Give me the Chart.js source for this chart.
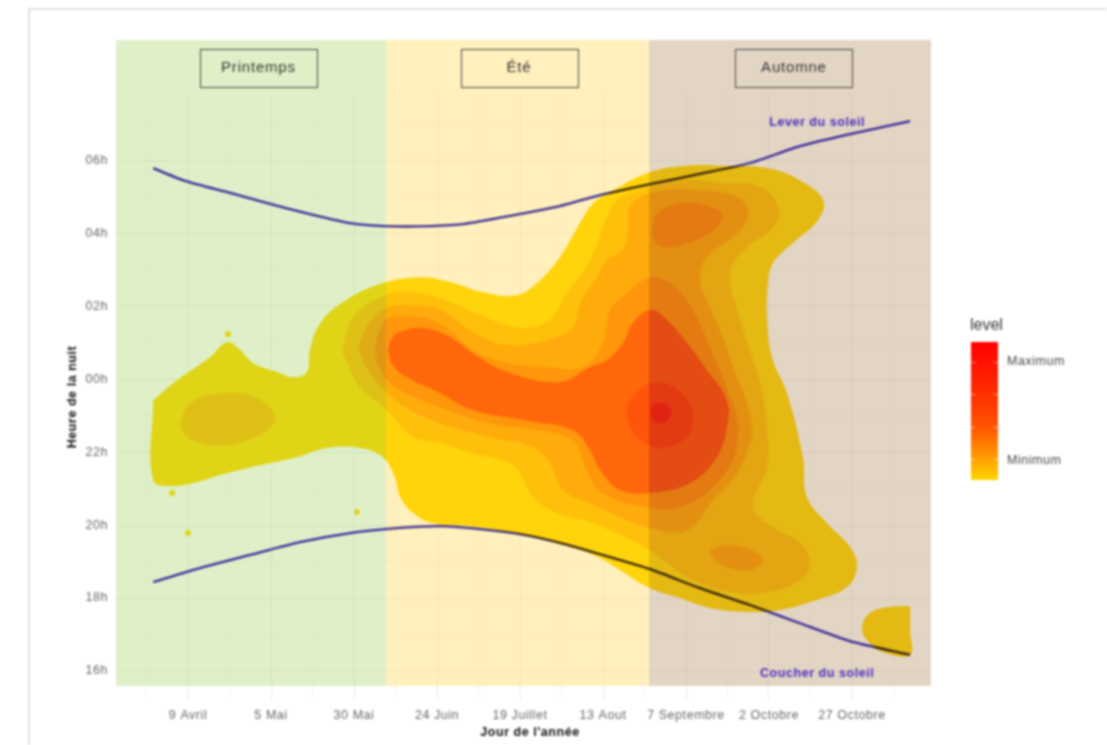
<!DOCTYPE html>
<html lang="fr">
<head>
<meta charset="utf-8">
<title>Heure de la nuit par jour de l'année</title>
<script src="https://cdn.jsdelivr.net/npm/chart.js@4"></script>
<style>
  html, body { margin: 0; background: #fff; overflow: hidden; }
  #frame { position: absolute; left: 28px; top: 8px; width: 1079px; height: 737px; box-sizing: border-box;
           border-left: 2px solid #e0e0e0; border-top: 2px solid #e0e0e0; filter: blur(.8px); }
  #c { position: absolute; left: 0; top: 0; filter: blur(.8px); }
</style>
</head>
<body>
<div id="frame"></div>
<canvas id="c" width="1107" height="745"></canvas>
<script>
// x = jour de l'année, y = heure (0 = minuit, négatif = avant minuit)
const dayTicks = [100, 125, 150, 175, 200, 225, 250, 275, 300];
const dayLabels = ["9 Avril", "5 Mai", "30 Mai", "24 Juin", "19 Juillet", "13 Aout", "7 Septembre", "2 Octobre", "27 Octobre"];
const dayMinorTicks = [87.5, 112.5, 137.5, 162.5, 187.5, 212.5, 237.5, 262.5, 287.5, 312.5];
const hourTicks = [-8, -7, -6, -5, -4, -3, -2, -1, 0, 1, 2, 3, 4, 5, 6, 7];
const hourLabels = { "-8": "16h", "-6": "18h", "-4": "20h", "-2": "22h", "0": "00h", "2": "02h", "4": "04h", "6": "06h" };

const sunrise = [[89.5,5.78],[99.1,5.43],[112.7,5.10],[124.7,4.80],[136.7,4.52],[148.8,4.27],[159.3,4.19],[172.9,4.19],[183.4,4.25],[197.0,4.47],[212.0,4.74],[224.1,5.04],[239.2,5.34],[254.2,5.62],[269.3,5.92],[284.3,6.38],[299.4,6.71],[317.5,7.07]];
const sunset = [[89.5,-5.56],[103.6,-5.18],[118.7,-4.82],[133.7,-4.47],[148.8,-4.22],[163.9,-4.08],[175.9,-4.03],[188.0,-4.11],[200.0,-4.25],[212.0,-4.49],[224.1,-4.80],[239.2,-5.21],[254.2,-5.73],[269.3,-6.19],[284.3,-6.69],[299.4,-7.18],[317.5,-7.56]];
const strayPoints = [[112.0,1.23],[95.2,-3.12],[100.0,-4.22],[150.9,-3.64]];

// contours de densité, du niveau le plus bas au plus haut
const level1 = [[89.5,-0.58],[96.7,-0.03],[106.6,0.60],[111.7,1.01],[115.1,0.85],[119.6,0.44],[126.8,0.19],[131.6,0.05],[135.8,0.19],[136.7,0.79],[139.8,1.53],[146.7,2.11],[156.9,2.58],[169.9,2.79],[178.9,2.66],[188.9,2.38],[199.1,2.30],[205.1,2.63],[212.0,3.34],[218.1,4.28],[222.0,4.82],[227.1,5.12],[238.2,5.64],[249.1,5.84],[262.3,5.84],[274.4,5.78],[284.3,5.45],[291.3,4.90],[289.8,4.36],[282.2,3.73],[276.2,3.18],[274.7,2.63],[274.4,1.70],[275.9,0.60],[280.4,-0.38],[285.2,-2.14],[286.4,-3.23],[292.5,-3.95],[299.4,-4.60],[301.5,-5.15],[298.5,-5.70],[289.5,-6.05],[278.3,-6.33],[268.4,-6.38],[257.2,-6.27],[248.2,-6.00],[239.2,-5.73],[230.1,-5.23],[224.1,-4.90],[215.1,-4.60],[200.0,-4.25],[184.9,-4.03],[173.8,-3.95],[167.8,-3.67],[163.9,-3.23],[162.3,-2.69],[158.7,-2.14],[151.8,-1.89],[141.9,-1.89],[132.8,-2.14],[121.7,-2.36],[111.7,-2.58],[101.5,-2.85],[95.5,-2.93],[89.5,-2.77]];
const level1Corner = [[317.5,-6.22],[310.5,-6.25],[305.4,-6.41],[303.0,-6.80],[304.5,-7.15],[309.3,-7.48],[317.5,-7.56],[317.5,-6.90]];
const level2 = [[146.4,0.79],[149.7,1.70],[159.3,2.30],[166.0,2.38],[175.9,2.22],[185.8,1.84],[199.1,1.42],[208.1,1.56],[214.2,2.36],[221.1,3.26],[226.2,4.44],[229.2,4.90],[239.2,5.26],[250.3,5.45],[260.2,5.37],[272.3,5.26],[277.7,4.71],[276.2,4.16],[268.4,3.62],[264.2,3.18],[263.3,2.63],[265.4,1.89],[268.4,0.99],[272.3,-0.11],[274.4,-1.40],[274.4,-2.41],[270.2,-3.51],[276.2,-4.06],[284.3,-4.49],[287.3,-5.04],[284.3,-5.51],[274.4,-5.84],[264.2,-5.84],[252.1,-5.51],[245.2,-5.10],[239.2,-4.69],[227.1,-4.14],[221.1,-3.92],[216.0,-3.81],[209.0,-3.59],[203.0,-3.12],[200.0,-2.58],[196.1,-2.27],[185.8,-2.03],[175.9,-1.75],[167.8,-1.59],[159.9,-0.85],[151.8,-0.22],[147.9,0.44]];
const level2Spring = [[97.6,-1.21],[100.6,-0.66],[111.7,-0.38],[120.8,-0.52],[126.2,-1.04],[122.6,-1.48],[111.7,-1.81],[103.6,-1.75],[99.1,-1.53]];
const level3 = [[151.2,0.88],[154.8,1.56],[159.9,1.95],[166.0,2.03],[175.9,1.89],[185.8,1.29],[196.1,0.93],[208.1,1.07],[216.0,1.42],[218.1,2.08],[223.2,2.79],[226.2,3.26],[231.0,3.53],[232.5,4.16],[233.1,4.71],[239.2,5.10],[254.2,5.18],[265.4,4.99],[268.7,4.63],[266.3,4.08],[256.3,3.34],[254.2,2.71],[257.2,1.97],[261.1,1.15],[264.2,0.33],[268.4,-0.66],[269.9,-1.40],[269.3,-1.75],[265.4,-2.58],[258.1,-3.32],[250.3,-4.14],[239.2,-4.08],[230.1,-3.78],[221.1,-3.40],[212.9,-3.04],[209.0,-2.30],[203.9,-1.86],[191.0,-1.59],[175.9,-1.21],[166.9,-0.85],[159.9,-0.38],[154.2,0.25]];
const level3Lobe = [[257.2,-4.69],[261.1,-4.55],[268.4,-4.63],[273.2,-4.96],[269.3,-5.23],[262.3,-5.15],[258.1,-4.90]];
const level4 = [[156.3,0.88],[157.8,1.34],[160.5,1.67],[169.9,1.70],[178.0,1.40],[185.8,0.79],[196.1,0.44],[208.1,0.33],[219.0,0.33],[225.0,0.99],[227.1,1.89],[231.0,2.25],[238.6,2.77],[245.2,2.63],[252.1,1.89],[257.2,0.88],[261.7,-0.11],[265.7,-1.12],[265.7,-1.48],[264.2,-2.22],[257.2,-3.04],[248.2,-3.51],[239.2,-3.53],[227.1,-3.23],[222.0,-2.85],[219.0,-2.22],[216.0,-1.67],[206.0,-1.40],[191.0,-1.21],[175.9,-0.77],[166.9,-0.44],[160.9,-0.11],[157.2,0.38]];
const level4Top = [[239.8,4.16],[241.3,4.55],[249.1,4.82],[258.1,4.71],[261.1,4.44],[257.2,4.00],[249.1,3.67],[243.1,3.62],[240.1,3.86]];
const level5 = [[160.2,0.79],[161.4,1.12],[163.9,1.29],[170.8,1.40],[178.9,1.15],[185.8,0.71],[196.1,0.19],[212.0,-0.08],[221.1,0.33],[226.2,0.52],[231.0,0.99],[234.0,1.53],[239.2,1.89],[244.3,1.62],[250.3,0.99],[256.3,0.25],[262.3,-0.58],[262.3,-1.32],[259.3,-2.14],[251.2,-2.85],[239.2,-3.12],[230.1,-3.04],[224.1,-2.49],[221.1,-1.95],[216.0,-1.40],[200.9,-1.12],[185.8,-0.85],[175.9,-0.38],[166.0,0.05],[161.7,0.38]];
const level6 = [[232.2,-0.66],[238.2,-0.16],[245.2,-0.16],[251.2,-0.66],[252.1,-1.04],[250.3,-1.59],[242.2,-1.89],[235.2,-1.59],[232.2,-1.04]];
const level7 = [[239.2,-0.93],[240.1,-0.71],[242.2,-0.66],[244.6,-0.71],[245.5,-0.93],[244.6,-1.12],[242.2,-1.21],[240.1,-1.12]];

const seasonNames = ["Printemps", "Été", "Automne"];
const seasonStarts = [78.3, 159.6, 238.9];
const seasonEnds = [159.6, 238.9, 323.8];
const seasonLabelDays = [121.2, 199.7, 282.5];

const xMin = 78.3, xMax = 323.8, yMin = -8.41, yMax = 9.29, gridTop = 7.73;

const levelColors = ["#FFD700", "#FFBA00", "#FF9C00", "#FF7E00", "#FF3C00", "#FF2200", "#FF0000"];
const seasonColors = ["rgba(148,205,72,.3)", "rgba(255,205,38,.3)", "rgba(161,115,58,.3)"];
const sunColor = "#3A2CC4";

function contour(points, color) {
  const data = points.concat([points[0]]).map(p => ({ x: p[0], y: p[1] }));
  return { data, showLine: true, fill: "shape", tension: 0.4, backgroundColor: color, borderWidth: 0, pointRadius: 0 };
}

function sunLine(points) {
  return { data: points.map(p => ({ x: p[0], y: p[1] })), showLine: true, fill: false, tension: 0.2,
           borderColor: sunColor, borderWidth: 2.3, pointRadius: 0, blend: "multiply" };
}

const layers = [
  { data: strayPoints.map(p => ({ x: p[0], y: p[1] })), showLine: false, pointRadius: 3, pointBorderWidth: 0, pointBackgroundColor: levelColors[0] },
  contour(level1, levelColors[0]),
  contour(level1Corner, levelColors[0]),
  contour(level2, levelColors[1]),
  contour(level2Spring, levelColors[1]),
  contour(level3, levelColors[2]),
  contour(level3Lobe, levelColors[2]),
  contour(level4, levelColors[3]),
  contour(level4Top, levelColors[3]),
  contour(level5, levelColors[4]),
  contour(level6, levelColors[5]),
  contour(level7, levelColors[6])
];
seasonNames.forEach((name, i) => {
  layers.push({
    label: name,
    data: [
      { x: seasonStarts[i], y: yMin }, { x: seasonStarts[i], y: yMax },
      { x: seasonEnds[i], y: yMax }, { x: seasonEnds[i], y: yMin }, { x: seasonStarts[i], y: yMin }
    ],
    showLine: true, fill: "shape", tension: 0, backgroundColor: seasonColors[i], borderWidth: 0, pointRadius: 0
  });
});
layers.push(sunLine(sunrise), sunLine(sunset));
layers.forEach((d, i) => { d.order = 100 - i; });

const fontName = "'Liberation Sans', Arial, sans-serif";

const decorPlugin = {
  id: "decor",
  beforeDraw(chart) {
    // le texte de la figure d'origine est plus large que la police
    chart.ctx.letterSpacing = "0.55px";
  },
  beforeDatasetsDraw(chart) {
    // pas de grille au-dessus du panneau d'origine
    const { ctx, chartArea, scales } = chart;
    ctx.save();
    ctx.fillStyle = "#fff";
    ctx.fillRect(chartArea.left - 1, chartArea.top - 1, chartArea.width + 2, scales.y.getPixelForValue(gridTop) - chartArea.top);
    ctx.restore();
  },
  beforeDatasetDraw(chart, args) {
    if (args.meta._dataset.blend) {
      chart.ctx.save();
      chart.ctx.globalCompositeOperation = args.meta._dataset.blend;
    }
  },
  afterDatasetDraw(chart, args) {
    if (args.meta._dataset.blend) chart.ctx.restore();
  },
  afterDraw(chart) {
    const { ctx, scales } = chart;
    const x = scales.x, y = scales.y;
    ctx.save();
    ctx.textBaseline = "middle";
    ctx.textAlign = "center";

    // boîtes des saisons
    seasonNames.forEach((name, i) => {
      const cx = x.getPixelForValue(seasonLabelDays[i]);
      ctx.strokeStyle = "#444";
      ctx.lineWidth = 1;
      ctx.strokeRect(Math.round(cx - 58.5) + .5, 49.5, 117, 38);
      ctx.fillStyle = "#333";
      ctx.letterSpacing = "0.8px";
      ctx.font = "15px " + fontName;
      ctx.fillText(name, cx, 68);
    });

    // étiquettes lever / coucher
    ctx.letterSpacing = "0.55px";
    ctx.fillStyle = "#4A2FC0";
    ctx.font = "bold 12.5px " + fontName;
    ctx.fillText("Lever du soleil", x.getPixelForValue(289.5), y.getPixelForValue(7.04));
    ctx.fillText("Coucher du soleil", x.getPixelForValue(289.5), y.getPixelForValue(-8.06));

    // titres des axes
    ctx.fillStyle = "#111";
    ctx.font = "bold 12.5px " + fontName;
    ctx.fillText("Jour de l'année", 530, 733);
    ctx.save();
    ctx.translate(73, 397);
    ctx.rotate(-Math.PI / 2);
    ctx.fillText("Heure de la nuit", 0, 0);
    ctx.restore();

    // légende
    ctx.textAlign = "left";
    ctx.fillStyle = "#333";
    ctx.letterSpacing = "0px";
    ctx.font = "16px " + fontName;
    ctx.fillText("level", 970, 326);
    const grad = ctx.createLinearGradient(0, 342, 0, 480);
    grad.addColorStop(0, "#FF0000");
    grad.addColorStop(.38, "#FF3000");
    grad.addColorStop(.62, "#FF5500");
    grad.addColorStop(.85, "#FFA000");
    grad.addColorStop(1, "#FFD700");
    ctx.fillStyle = grad;
    ctx.fillRect(971, 342, 27, 138);
    ctx.fillStyle = "rgba(255,255,255,.5)";
    [362, 394, 427, 459].forEach(t => {
      ctx.fillRect(971, t, 5, 1);
      ctx.fillRect(993, t, 5, 1);
    });
    ctx.fillStyle = "#444";
    ctx.letterSpacing = "0.55px";
    ctx.font = "12.5px " + fontName;
    ctx.fillText("Maximum", 1007, 362);
    ctx.fillText("Minimum", 1007, 461);
    ctx.restore();
  }
};

new Chart(document.getElementById("c"), {
  type: "scatter",
  data: { datasets: layers },
  plugins: [decorPlugin],
  options: {
    responsive: false,
    animation: false,
    events: [],
    layout: { padding: { left: 86, top: 40, right: 176, bottom: 19 } },
    plugins: { legend: { display: false }, tooltip: { enabled: false } },
    scales: {
      x: {
        type: "linear",
        min: xMin,
        max: xMax,
        afterBuildTicks(scale) {
          scale.ticks = dayMinorTicks.concat(dayTicks).sort((a, b) => a - b).map(v => ({ value: v }));
        },
        afterFit(scale) { scale.height = 40; },
        border: { display: false },
        grid: {
          color: ctx => dayTicks.includes(ctx.tick && ctx.tick.value) ? "#eeeeee" : "#f5f5f5",
          tickLength: 14,
          lineWidth: 1
        },
        ticks: {
          autoSkip: false,
          maxRotation: 0,
          padding: 8,
          color: "#666",
          font: { family: fontName, size: 12.5 },
          callback: v => { const i = dayTicks.indexOf(v); return i < 0 ? "" : dayLabels[i]; }
        }
      },
      y: {
        type: "linear",
        min: yMin,
        max: yMax,
        afterBuildTicks(scale) {
          scale.ticks = hourTicks.map(v => ({ value: v }));
        },
        afterFit(scale) { scale.width = 30; },
        border: { display: false },
        grid: {
          color: ctx => (ctx.tick && ctx.tick.value % 2 === 0) ? "#eeeeee" : "#f5f5f5",
          drawTicks: false,
          lineWidth: 1
        },
        ticks: {
          autoSkip: false,
          padding: 8,
          color: "#666",
          font: { family: fontName, size: 12.5 },
          callback: v => hourLabels[v] || ""
        }
      }
    }
  }
});
</script>
</body>
</html>
